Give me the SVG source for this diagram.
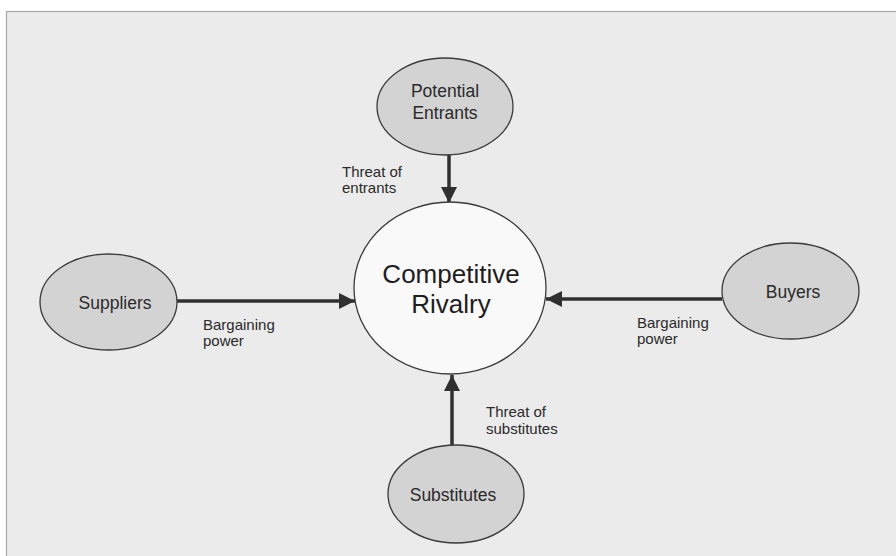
<svg xmlns="http://www.w3.org/2000/svg" width="896" height="556" viewBox="0 0 896 556">
<defs>
<style>
.node ellipse{fill:#d3d3d3;stroke:#3a3a3a;stroke-width:1.3}
.center ellipse{fill:#f9f9f9;stroke:#3a3a3a;stroke-width:1.3}
.nt{font-family:"Liberation Sans",Arial,sans-serif;font-size:17.5px;fill:#2a2a2a;text-anchor:middle}
.ct{font-family:"Liberation Sans",Arial,sans-serif;font-size:26px;fill:#1e1e1e;text-anchor:middle}
.lb{font-family:"Liberation Sans",Arial,sans-serif;font-size:15px;fill:#2a2a2a}
.conn line{stroke:#303030;stroke-width:3.5}
</style>
<marker id="ah" viewBox="0 0 10 10" refX="10" refY="5" markerWidth="18" markerHeight="16" markerUnits="userSpaceOnUse" orient="auto">
<path d="M0,0 L10,5 L0,10 z" fill="#303030"/>
</marker>
</defs>
<rect x="0" y="0" width="896" height="556" fill="#ffffff"/>
<rect x="6.5" y="11.5" width="900" height="560" fill="#ebebeb" stroke="#a8a8a8" stroke-width="1.2"/>
<g id="connectors" class="conn">
<line x1="449" y1="155" x2="449" y2="203" marker-end="url(#ah)"/>
<line x1="170" y1="301" x2="355" y2="301" marker-end="url(#ah)"/>
<line x1="722" y1="299" x2="546" y2="299" marker-end="url(#ah)"/>
<line x1="452" y1="445" x2="452" y2="375" marker-end="url(#ah)"/>
</g>
<g id="rivalry" class="center">
<ellipse cx="450" cy="288" rx="96" ry="86"/>
<text class="ct" x="451" y="283">Competitive</text>
<text class="ct" x="451" y="313">Rivalry</text>
</g>
<g id="potential-entrants" class="node">
<ellipse cx="445" cy="106.5" rx="68" ry="48.5"/>
<text class="nt" x="445" y="97">Potential</text>
<text class="nt" x="445" y="119">Entrants</text>
</g>
<g id="suppliers" class="node">
<ellipse cx="108.5" cy="302" rx="68.5" ry="48"/>
<text class="nt" x="115" y="309">Suppliers</text>
</g>
<g id="buyers" class="node">
<ellipse cx="790.5" cy="291" rx="68.5" ry="48"/>
<text class="nt" x="793" y="298">Buyers</text>
</g>
<g id="substitutes" class="node">
<ellipse cx="456" cy="494" rx="68" ry="49"/>
<text class="nt" x="453" y="501">Substitutes</text>
</g>
<g id="labels">
<text class="lb" x="342" y="177">Threat of</text>
<text class="lb" x="342" y="193">entrants</text>
<text class="lb" x="203" y="330">Bargaining</text>
<text class="lb" x="203" y="346">power</text>
<text class="lb" x="637" y="328">Bargaining</text>
<text class="lb" x="637" y="344">power</text>
<text class="lb" x="486" y="417">Threat of</text>
<text class="lb" x="486" y="434">substitutes</text>
</g>
</svg>
